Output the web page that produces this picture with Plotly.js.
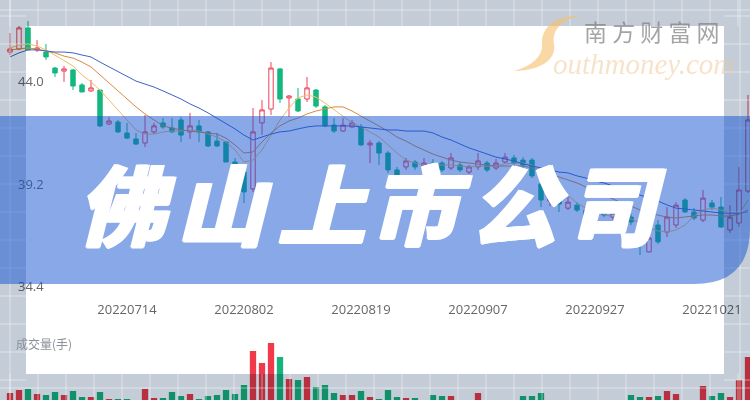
<!DOCTYPE html>
<html><head><meta charset="utf-8">
<script src="https://cdn.plot.ly/plotly-3.0.1.min.js"></script>
<style>html,body{margin:0;padding:0;background:#fff}#chart{width:750px;height:400px}</style>
</head><body><div id="chart"></div>
<script>
const dates = ['20220627','20220628','20220629','20220630','20220701','20220704','20220705','20220706','20220707','20220708',
'20220711','20220712','20220713','20220714','20220715','20220718','20220719','20220720','20220721','20220722',
'20220725','20220726','20220727','20220728','20220729','20220801','20220802','20220803','20220804','20220805',
'20220808','20220809','20220810','20220811','20220812','20220815','20220816','20220817','20220818','20220819',
'20220822','20220823','20220824','20220825','20220826','20220829','20220830','20220831','20220901','20220902',
'20220905','20220906','20220907','20220908','20220909','20220913','20220914','20220915','20220916','20220919',
'20220920','20220921','20220922','20220923','20220926','20220927','20220928','20220929','20220930','20221010',
'20221011','20221012','20221013','20221014','20221017','20221018','20221019','20221020','20221021','20221024',
'20221025','20221026','20221027'];
const openP = [45.38,45.52,46.51,45.48,45.38,44.63,44.49,44.54,43.84,43.56,
43.60,42.01,42.10,41.59,41.31,41.12,41.64,42.06,41.82,42.20,
41.64,41.92,41.64,41.21,41.17,40.23,39.76,38.97,42.06,42.71,
44.59,43.23,43.18,43.18,43.60,42.81,41.96,41.68,41.87,41.87,
41.03,41.12,40.65,39.86,40.00,40.23,40.00,40.18,40.18,39.95,
40.09,39.76,40.00,40.18,39.95,40.23,40.42,40.32,40.32,39.20,
38.40,38.50,38.07,38.21,37.98,37.28,38.03,37.65,37.84,37.65,
36.58,36.02,37.28,36.95,37.28,38.45,37.89,37.51,38.31,38.12,
37.05,37.37,38.87];
const highP = [46.27,46.60,46.83,45.94,45.76,44.68,44.73,44.59,43.93,44.07,
43.60,42.34,42.20,42.06,41.59,42.43,42.06,42.29,42.29,42.34,
42.53,42.20,41.68,41.59,41.21,40.42,40.09,42.76,43.13,44.91,
44.63,43.37,43.70,44.21,43.65,42.90,42.29,42.29,42.20,42.01,
41.26,41.21,40.75,40.00,40.42,40.32,40.42,40.37,40.28,40.65,
40.23,40.09,40.65,40.28,40.37,40.65,40.56,40.46,40.42,39.39,
38.68,38.59,38.59,38.35,38.07,37.60,38.12,37.98,37.93,37.79,
36.72,36.91,37.51,38.12,38.35,38.54,38.07,38.92,38.45,38.59,
38.21,40.00,43.37];
const lowP = [45.24,45.48,45.48,45.38,45.01,44.21,43.98,43.60,43.51,43.51,
41.87,41.96,41.59,41.31,41.03,40.93,41.54,41.78,41.59,41.17,
41.31,41.17,40.93,40.93,40.23,39.67,38.31,38.83,41.50,42.43,
42.99,42.34,42.57,43.04,42.76,41.87,41.59,41.64,41.82,40.98,
40.18,40.09,39.72,39.39,39.86,39.86,39.86,39.90,39.76,39.86,
39.76,39.67,39.86,39.76,39.86,40.18,40.09,39.95,39.48,38.12,
38.17,37.89,37.98,37.89,37.14,37.10,37.65,37.51,37.42,37.28,
35.88,36.00,36.39,36.72,37.14,37.84,37.51,37.42,37.98,37.14,
36.91,37.19,38.78];
const closeP = [45.52,46.51,45.48,45.57,45.15,44.40,44.59,43.79,43.51,43.70,
41.92,42.15,41.64,41.35,41.07,41.64,41.92,41.87,41.64,41.49,
41.92,41.64,40.98,40.98,40.23,39.76,38.83,41.64,42.67,44.63,
43.18,43.32,42.62,43.70,42.85,41.92,41.68,41.96,42.06,41.03,
41.12,40.65,39.86,39.58,40.28,40.00,40.18,40.09,39.86,40.42,
39.86,40.00,40.28,39.86,40.18,40.46,40.18,40.09,39.58,38.45,
38.54,38.26,38.35,37.98,37.28,37.51,37.75,37.84,37.56,37.42,
36.49,36.67,36.49,37.65,38.21,37.89,37.61,38.54,38.12,37.19,
37.65,38.92,42.20];
const ma5 = [45.57,45.71,45.76,45.66,45.48,45.24,45.01,44.73,44.31,43.98,
43.60,43.13,42.67,42.20,41.73,41.54,41.54,41.64,41.68,41.68,
41.73,41.68,41.54,41.40,41.17,40.79,40.23,40.32,40.79,41.49,
42.20,42.76,43.23,43.37,43.27,42.99,42.67,42.34,42.06,41.87,
41.64,41.40,41.03,40.65,40.32,40.18,40.09,40.09,40.09,40.09,
40.04,40.00,40.04,40.04,40.04,40.14,40.18,40.18,40.09,39.76,
39.39,39.01,38.64,38.31,38.07,37.89,37.79,37.65,37.61,37.56,
37.37,37.14,37.00,36.95,37.05,37.28,37.70,37.98,38.07,37.98,
37.84,37.79,38.45];
const ma10 = [45.48,45.52,45.57,45.52,45.43,45.34,45.19,45.10,44.91,44.68,
44.31,43.93,43.56,43.18,42.81,42.48,42.20,41.92,41.82,41.73,
41.68,41.64,41.59,41.54,41.35,41.03,40.65,40.70,41.17,41.59,
41.92,42.15,42.29,42.48,42.62,42.71,42.81,42.81,42.62,42.38,
42.15,41.92,41.68,41.40,41.21,40.98,40.79,40.60,40.46,40.32,
40.23,40.18,40.14,40.09,40.04,40.04,40.04,40.04,39.95,39.81,
39.67,39.53,39.39,39.25,39.06,38.87,38.68,38.50,38.31,38.17,
37.98,37.84,37.75,37.65,37.61,37.65,37.70,37.75,37.75,37.70,
37.70,37.79,37.98];
const ma20 = [45.15,45.34,45.48,45.48,45.43,45.38,45.38,45.34,45.24,45.15,
44.91,44.68,44.45,44.21,44.02,43.88,43.74,43.56,43.37,43.18,
42.95,42.76,42.53,42.29,42.06,41.78,41.49,41.26,41.40,41.54,
41.64,41.68,41.78,41.87,41.92,41.92,41.92,41.92,41.92,41.87,
41.82,41.78,41.73,41.73,41.68,41.68,41.68,41.59,41.40,41.26,
41.07,40.89,40.75,40.60,40.46,40.37,40.28,40.14,40.04,39.95,
39.86,39.76,39.72,39.58,39.48,39.34,39.25,39.11,38.97,38.83,
38.69,38.54,38.40,38.22,38.07,38.03,37.98,37.93,37.89,37.84,
37.84,37.84,37.89];
const volume = [12000,15000,16000,11000,10000,13000,10000,14000,8000,8000,
13000,6000,6000,6000,5000,16000,7000,7000,13000,9000,
11000,6000,9000,10000,15000,11000,20000,54000,42000,62000,
48000,26000,25000,28000,18000,20000,12000,10000,10000,14000,
8000,6000,15000,8000,7000,7000,5000,10000,9000,9000,
5000,4000,12000,4000,3000,5000,3000,9000,9000,12000,
5000,3000,2000,3000,2000,3000,2000,3000,4000,10000,
8000,8000,9000,14000,11000,5000,4000,19000,9000,12000,
8000,25000,48000];
const tickDates = ['20220714','20220802','20220819','20220907','20220927','20221021'];
const priceTicks = [44.0, 39.2, 34.4];
const titleChars = ['佛','山','上','市','公','司'];
const volumeLabel = '成交量(手)';
const brandCn = '南 方 财 富 网';
const brandEn = 'outhmoney.com';

const RED = '#ef4257', GREEN = '#13b77f';
const volColors = closeP.map((c, i) => c >= openP[i] ? '#f03a4c' : '#16b47c');

const traces = [
  { type: 'candlestick', x: dates, open: openP, high: highP, low: lowP, close: closeP,
    xaxis: 'x', yaxis: 'y', whiskerwidth: 0, hoverinfo: 'skip',
    increasing: { line: { color: RED, width: 1 }, fillcolor: 'rgba(255,255,255,0)' },
    decreasing: { line: { color: GREEN, width: 1 }, fillcolor: GREEN } },
  { type: 'scatter', mode: 'lines', x: dates, y: ma5, line: { color: '#f3bd62', width: 1 }, hoverinfo: 'skip' },
  { type: 'scatter', mode: 'lines', x: dates, y: ma10, line: { color: '#dc8a3f', width: 1 }, hoverinfo: 'skip' },
  { type: 'scatter', mode: 'lines', x: dates, y: ma20, line: { color: '#3f63c8', width: 1 }, hoverinfo: 'skip' },
  { type: 'bar', x: dates, y: volume, xaxis: 'x', yaxis: 'y2', marker: { color: volColors, line: { width: 0 } }, hoverinfo: 'skip' }
];

const W = 750, H = 400;
const px = v => v / W, py = v => 1 - v / H;
const P = (x, y) => `${px(x)} ${py(y)}`;
const shapes = [];
const TINT = '#c4cdd7';
// frame (multiplied later)
shapes.push({ type: 'rect', xref: 'paper', yref: 'paper', x0: 0, x1: 1, y0: py(26), y1: 1, fillcolor: TINT, line: { width: 0 }, layer: 'above' });
shapes.push({ type: 'rect', xref: 'paper', yref: 'paper', x0: 0, x1: 1, y0: 0, y1: py(374), fillcolor: TINT, line: { width: 0 }, layer: 'above' });
shapes.push({ type: 'rect', xref: 'paper', yref: 'paper', x0: 0, x1: px(26), y0: py(374), y1: py(26), fillcolor: TINT, line: { width: 0 }, layer: 'above' });
shapes.push({ type: 'rect', xref: 'paper', yref: 'paper', x0: px(724), x1: 1, y0: py(374), y1: py(26), fillcolor: TINT, line: { width: 0 }, layer: 'above' });
// decorative grid in the frame
const gl = { color: 'rgba(255,255,255,0.45)', width: 1 };
for (let y = 16; y < H; y += 28) {
  shapes.push({ type: 'line', xref: 'paper', yref: 'paper', x0: 0, x1: px(26), y0: py(y), y1: py(y), line: gl, layer: 'above' });
  shapes.push({ type: 'line', xref: 'paper', yref: 'paper', x0: px(724), x1: 1, y0: py(y), y1: py(y), line: gl, layer: 'above' });
}
for (let x = 10; x < W; x += 28) {
  shapes.push({ type: 'line', xref: 'paper', yref: 'paper', x0: px(x), x1: px(x), y0: py(26), y1: 1, line: gl, layer: 'above' });
  shapes.push({ type: 'line', xref: 'paper', yref: 'paper', x0: px(x), x1: px(x), y0: 0, y1: py(374), line: gl, layer: 'above' });
}
shapes.push({ type: 'line', xref: 'paper', yref: 'paper', x0: 0, x1: 1, y0: py(10), y1: py(10), line: gl, layer: 'above' });
shapes.push({ type: 'line', xref: 'paper', yref: 'paper', x0: px(10), x1: px(10), y0: 0, y1: 1, line: gl, layer: 'above' });
shapes.push({ type: 'line', xref: 'paper', yref: 'paper', x0: px(740), x1: px(740), y0: 0, y1: 1, line: gl, layer: 'above' });
shapes.push({ type: 'line', xref: 'paper', yref: 'paper', x0: 0, x1: 1, y0: py(388), y1: py(388), line: gl, layer: 'above' });
// logo swoosh
shapes.push({ type: 'path', xref: 'paper', yref: 'paper', layer: 'above',
  path: `M ${P(580,16)} C ${P(556,15)} ${P(541,27)} ${P(542,44)} C ${P(543,57)} ${P(531,66)} ${P(514,71)} C ${P(536,71)} ${P(557,62)} ${P(554,44)} C ${P(552,30)} ${P(561,20)} ${P(580,16)} Z`,
  fillcolor: 'rgba(246,190,105,0.6)', line: { width: 0 } });
// blue band with rounded bottom-right corner
shapes.push({ type: 'path', xref: 'paper', yref: 'paper', layer: 'above',
  path: `M 0 ${py(116)} L 1 ${py(116)} L 1 ${py(228)} Q 1 ${py(284)} ${px(694)} ${py(284)} L 0 ${py(284)} Z`,
  fillcolor: 'rgba(17,81,209,0.5)', line: { width: 0 } });

const annotations = [];
titleChars.forEach((ch, k) => {
  annotations.push({ text: ch, xref: 'paper', yref: 'paper', x: px(126 + 98 * k), y: py(201), showarrow: false,
    xanchor: 'center', yanchor: 'middle',
    font: { family: 'Noto Sans CJK SC', size: 88, color: '#ffffff', weight: 900, style: 'italic',
      shadow: '2px 0 0 #fff, -1px 0 0 #fff, 0 1px 0 #fff, 1px 1px 0 #fff' } });
});
annotations.push({ text: brandEn, xref: 'paper', yref: 'paper', x: px(643), y: py(64), showarrow: false, xanchor: 'center', yanchor: 'middle',
  font: { family: 'Liberation Serif', size: 29, color: 'rgba(240,200,150,0.5)', style: 'italic' } });
annotations.push({ text: brandCn, xref: 'paper', yref: 'paper', x: px(652), y: py(31), showarrow: false, xanchor: 'center', yanchor: 'middle',
  font: { family: 'Noto Sans CJK SC', size: 23, color: 'rgba(125,125,125,0.7)' } });
annotations.push({ text: volumeLabel, xref: 'paper', yref: 'paper', x: px(14), y: py(343), showarrow: false, xanchor: 'left', yanchor: 'middle',
  font: { family: 'Noto Sans CJK SC', size: 12, color: '#8a8f98' } });

const layout = {
  width: W, height: H, margin: { l: 0, r: 0, t: 0, b: 0 },
  paper_bgcolor: '#ffffff', plot_bgcolor: 'rgba(0,0,0,0)',
  showlegend: false, dragmode: false, hovermode: false, boxgap: 0.3, bargap: 0.3,
  font: { family: 'Open Sans', color: '#666' },
  xaxis: { type: 'category', range: [-10 / 9, 750 / 9 - 10 / 9], tickmode: 'array', tickvals: tickDates, ticktext: tickDates,
    anchor: 'free', position: py(300), showgrid: false, zeroline: false, showline: false, ticks: '',
    tickfont: { size: 13, color: '#666' }, rangeslider: { visible: false }, fixedrange: true },
  yaxis: { domain: [0, 1], range: [47.817 - 0.04683 * 400, 47.817], tickmode: 'array', tickvals: priceTicks,
    ticktext: priceTicks.map(v => v.toFixed(1)), anchor: 'free', position: 0, side: 'left', ticklabelposition: 'inside',
    ticklabelstandoff: 14, showgrid: false, zeroline: false, showline: false, ticks: '',
    tickfont: { size: 13, color: '#666' }, fixedrange: true },
  yaxis2: { domain: [0, 0.2], range: [5000, 85000], visible: false, anchor: 'free', position: 0, fixedrange: true },
  shapes: shapes, annotations: annotations
};

Plotly.newPlot('chart', traces, layout, { staticPlot: true, displayModeBar: false }).then(() => {
  const paths = document.querySelectorAll('.layer-above .shapelayer path');
  paths.forEach((p, k) => {
    const idx = p.getAttribute('data-index');
    const n = idx === null ? k : +idx;
    if (n < 4) p.style.mixBlendMode = 'multiply';
  });
});
</script></body></html>
